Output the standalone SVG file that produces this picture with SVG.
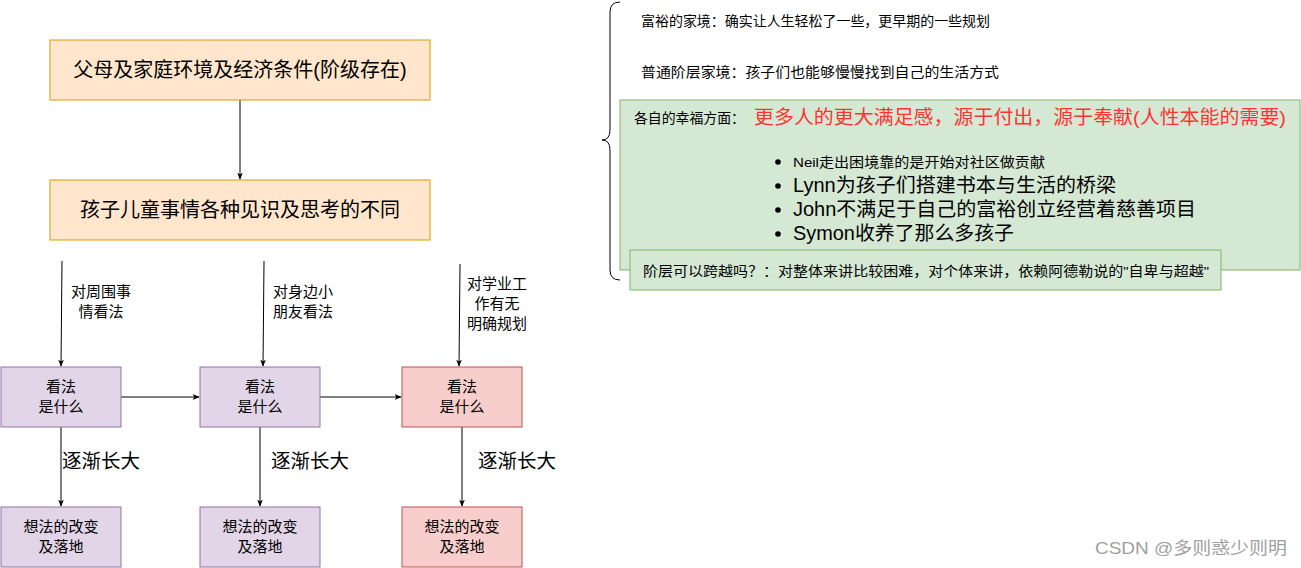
<svg xmlns="http://www.w3.org/2000/svg" width="1301" height="568" viewBox="0 0 1301 568">
<defs>
<style>
text{font-family:"Liberation Sans","Noto Sans CJK SC",sans-serif;fill:#000}
.c{text-anchor:middle}
.orange{fill:#ffe6cc;stroke:#d79b00;stroke-width:1}
.purple{fill:#e1d5e7;stroke:#9673a6;stroke-width:1}
.red{fill:#f8cecc;stroke:#b85450;stroke-width:1}
.green{fill:#d5e8d4;stroke:#82b366;stroke-width:1}
.edge{stroke:#000;stroke-width:1;fill:none;marker-end:url(#arr)}
.big{font-size:20px}
.mid{font-size:15px}
.lbl{font-size:15px}
.grow{font-size:19.5px}
</style>
<marker id="arr" viewBox="0 0 10 10" refX="9" refY="5" markerWidth="7" markerHeight="7" orient="auto" markerUnits="userSpaceOnUse">
<path d="M0,1 L10,5 L0,9 L2.5,5 Z" fill="#000"/>
</marker>
</defs>
<rect width="1301" height="568" fill="#fff"/>

<g id="connectors">
<path class="edge" d="M240,100 L240,179"/>
<path class="edge" d="M62,261 L61,366"/>
<path class="edge" d="M264,261 L263,366"/>
<path class="edge" d="M460,264 L459,366"/>
<path class="edge" d="M121,397 L199,397"/>
<path class="edge" d="M320,397 L401,397"/>
<path class="edge" d="M61,427 L61,506"/>
<path class="edge" d="M260,427 L260,506"/>
<path class="edge" d="M462,427 L462,506"/>
<text class="lbl c" x="101" y="297">对周围事</text>
<text class="lbl c" x="101" y="317">情看法</text>
<text class="lbl c" x="303" y="297">对身边小</text>
<text class="lbl c" x="303" y="317">朋友看法</text>
<text class="lbl c" x="497" y="289">对学业工</text>
<text class="lbl c" x="497" y="309">作有无</text>
<text class="lbl c" x="497" y="329">明确规划</text>
<text class="grow" x="62" y="468">逐渐长大</text>
<text class="grow" x="271" y="468">逐渐长大</text>
<text class="grow" x="478" y="468">逐渐长大</text>
</g>

<g id="node-parents">
<rect class="orange" x="50" y="40" width="380" height="60"/>
<text class="big c" x="240" y="77">父母及家庭环境及经济条件(阶级存在)</text>
</g>
<g id="node-child">
<rect class="orange" x="50" y="180" width="380" height="60"/>
<text class="big c" x="240" y="217">孩子儿童事情各种见识及思考的不同</text>
</g>

<g id="node-view1">
<rect class="purple" x="1" y="367" width="120" height="60"/>
<text class="mid c" x="61" y="392">看法</text>
<text class="mid c" x="61" y="412">是什么</text>
</g>
<g id="node-view2">
<rect class="purple" x="200" y="367" width="120" height="60"/>
<text class="mid c" x="260" y="392">看法</text>
<text class="mid c" x="260" y="412">是什么</text>
</g>
<g id="node-view3">
<rect class="red" x="402" y="367" width="120" height="60"/>
<text class="mid c" x="462" y="392">看法</text>
<text class="mid c" x="462" y="412">是什么</text>
</g>

<g id="node-change1">
<rect class="purple" x="1" y="507" width="120" height="60"/>
<text class="mid c" x="61" y="532">想法的改变</text>
<text class="mid c" x="61" y="552">及落地</text>
</g>
<g id="node-change2">
<rect class="purple" x="200" y="507" width="120" height="60"/>
<text class="mid c" x="260" y="532">想法的改变</text>
<text class="mid c" x="260" y="552">及落地</text>
</g>
<g id="node-change3">
<rect class="red" x="402" y="507" width="120" height="60"/>
<text class="mid c" x="462" y="532">想法的改变</text>
<text class="mid c" x="462" y="552">及落地</text>
</g>

<g id="brace">
<path d="M620,2 Q610,2 610,12 L610,130 Q610,140 602,140 Q610,140 610,150 L610,270 Q610,280 620,280" fill="none" stroke="#000" stroke-width="1"/>
</g>

<g id="note-rich">
<text x="641" y="26" font-size="13.5" textLength="349" lengthAdjust="spacingAndGlyphs">富裕的家境：确实让人生轻松了一些，更早期的一些规划</text>
</g>
<g id="note-normal">
<text x="641" y="77" font-size="13.5" textLength="358" lengthAdjust="spacingAndGlyphs">普通阶层家境：孩子们也能够慢慢找到自己的生活方式</text>
</g>

<g id="node-happiness">
<rect class="green" x="620" y="100" width="680" height="170"/>
<text x="634" y="123" font-size="13.5" textLength="111" lengthAdjust="spacingAndGlyphs">各自的幸福方面：</text>
<text x="754" y="124" font-size="19" style="fill:#ff3333" textLength="532" lengthAdjust="spacingAndGlyphs">更多人的更大满足感，源于付出，源于奉献(人性本能的需要)</text>
<circle cx="778" cy="162" r="2.8" fill="#000"/>
<text x="793" y="167" font-size="13.5" textLength="252" lengthAdjust="spacingAndGlyphs">Neil走出困境靠的是开始对社区做贡献</text>
<circle cx="778" cy="186" r="2.8" fill="#000"/>
<text x="793" y="192" font-size="19.5" textLength="323" lengthAdjust="spacingAndGlyphs">Lynn为孩子们搭建书本与生活的桥梁</text>
<circle cx="778" cy="210" r="2.8" fill="#000"/>
<text x="793" y="216" font-size="19.5" textLength="403" lengthAdjust="spacingAndGlyphs">John不满足于自己的富裕创立经营着慈善项目</text>
<circle cx="778" cy="234" r="2.8" fill="#000"/>
<text x="793" y="240" font-size="19.5" textLength="221" lengthAdjust="spacingAndGlyphs">Symon收养了那么多孩子</text>
</g>

<g id="node-class">
<rect class="green" x="630" y="250" width="591" height="40"/>
<text x="643" y="276" font-size="13.5" textLength="566" lengthAdjust="spacingAndGlyphs">阶层可以跨越吗？：对整体来讲比较困难，对个体来讲，依赖阿德勒说的"自卑与超越"</text>
</g>

<text x="1095" y="554" font-size="16.5" style="fill:#a0a0a0" textLength="192" lengthAdjust="spacingAndGlyphs">CSDN @多则惑少则明</text>
</svg>
